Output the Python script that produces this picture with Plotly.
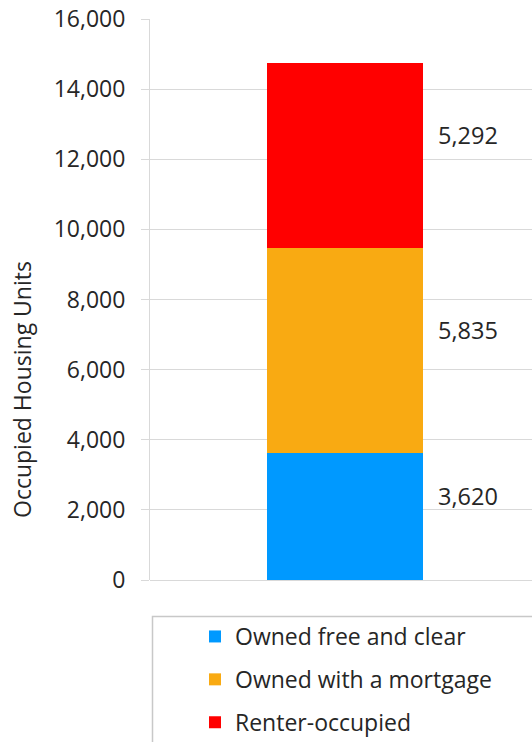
import plotly.graph_objects as go

categories = ["Occupied Housing Units"]
series_names = ["Owned free and clear", "Owned with a mortgage", "Renter-occupied"]
series_values = [3620, 5835, 5292]
series_colors = ["#0099FF", "#F9AA12", "#FF0000"]
tick_values = [0, 2000, 4000, 6000, 8000, 10000, 12000, 14000, 16000]

W, H = 532, 742
ML, MR, MT, MB = 150, 0, 19, 162
PW, PH = W - ML - MR, H - MT - MB

def px_x(px):
    return (px - ML) / PW

def px_y(py):
    return (H - MB - py) / PH

FONT = "Open Sans"
TXT = "#262626"
GRID = "#D9D9D9"

fig = go.Figure()
for name, val, col in zip(series_names, series_values, series_colors):
    fig.add_trace(go.Bar(
        x=categories, y=[val], name=name, marker=dict(color=col, line=dict(width=0)),
        width=0.408, legendgroup=name, hoverinfo="skip",
    ))

annotations = []
cum = 0
for val in series_values:
    mid = cum + val / 2
    cum += val
    annotations.append(dict(
        x=px_x(436), xref="paper", xanchor="left",
        y=mid, yref="y", yanchor="middle", yshift=21,
        text=f"{val:,}", showarrow=False,
        font=dict(family=FONT, size=23.5, color=TXT),
    ))

annotations.append(dict(
    x=px_x(22), xref="paper", xanchor="center",
    y=px_y(390), yref="paper", yanchor="middle",
    text="Occupied Housing Units", textangle=-90, showarrow=False,
    font=dict(family=FONT, size=23, color=TXT),
))

fig.update_layout(
    width=W, height=H,
    margin=dict(l=ML, r=MR, t=MT, b=MB, pad=0, autoexpand=False),
    paper_bgcolor="white", plot_bgcolor="white",
    barmode="stack", bargap=0,
    showlegend=True,
    legend=dict(
        x=px_x(195), y=px_y(615), xanchor="left", yanchor="top",
        orientation="v", traceorder="grouped", tracegroupgap=10,
        font=dict(family=FONT, size=23, color=TXT),
        bgcolor="rgba(0,0,0,0)", borderwidth=0,
    ),
    xaxis=dict(
        range=[-0.5105, 0.4895], showticklabels=False, showgrid=False,
        showline=False, zeroline=False, ticks="",
    ),
    yaxis=dict(
        range=[0, 16000], tickvals=tick_values, tickformat=",",
        showgrid=True, gridcolor=GRID, gridwidth=1,
        showline=True, linecolor=GRID, linewidth=1,
        zeroline=True, zerolinecolor=GRID, zerolinewidth=1,
        ticks="outside", ticklen=8, tickcolor=GRID, tickwidth=1,
        ticklabelstandoff=11,
        tickfont=dict(family=FONT, size=23, color=TXT),
    ),
    annotations=annotations,
    shapes=[dict(
        type="rect", xref="paper", yref="paper",
        x0=px_x(152.5), x1=px_x(545), y0=px_y(616.5), y1=px_y(760),
        line=dict(color="#C8C8C8", width=1.5), fillcolor="rgba(0,0,0,0)",
    )],
)

fig.write_html("out.html")
